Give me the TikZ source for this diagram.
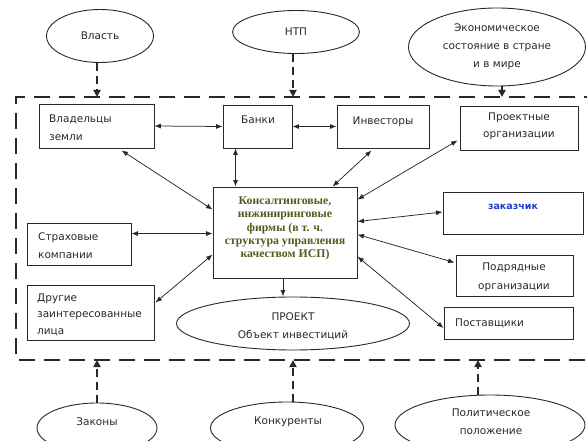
\documentclass[tikz,border=0pt]{standalone}
\usepackage{fontspec}
\setmainfont{DejaVu Sans}
\newfontfamily\firmfont{Liberation Serif}
\usetikzlibrary{arrows.meta,shapes.geometric,calc}
\definecolor{firmtext}{RGB}{78,92,28}
\definecolor{clientblue}{RGB}{35,60,205}
\definecolor{ink}{RGB}{40,40,40}
\begin{document}
\begin{tikzpicture}[x=1pt,y=-1pt,
  box/.style={draw=ink,line width=0.9pt,rectangle,inner sep=0pt},
  oval/.style={draw=ink,line width=0.9pt,ellipse,inner sep=0pt,
    font=\fontsize{10.5}{18}\selectfont,text=ink,align=center},
  lbl/.style={font=\fontsize{10.5}{18}\selectfont,text=ink,inner sep=0pt},
  link/.style={{Latex[length=6.5pt,width=5pt]}-{Latex[length=6.5pt,width=5pt]},line width=0.75pt,draw=ink},
  onelink/.style={-{Latex[length=6.5pt,width=5pt]},line width=0.75pt,draw=ink},
  infl/.style={-{Triangle[length=7pt,width=7pt]},line width=2.2pt,draw=ink,dash pattern=on 8pt off 5pt},
  frameline/.style={line width=1.8pt,draw=ink,dash pattern=on 16pt off 9pt}]
\useasboundingbox (0,0) rectangle (587,441);
\clip (0,0) rectangle (587,441);

% dashed boundary of the project environment (open to the right)
\coordinate (fne) at (600,97);
\coordinate (fnw) at (16,97);
\coordinate (fsw) at (16,360);
\coordinate (fse) at (600,360);
\draw[frameline] (fne) -- (fnw) -- (fsw) -- (fse);

% outer factors
\node[oval,minimum width=107pt,minimum height=53pt] (vlast) at (100,36) {Власть};
\node[oval,minimum width=127pt,minimum height=43pt] (ntp) at (296,32) {НТП};
\node[oval,minimum width=177pt,minimum height=78pt] (econ) at (497,47) {Экономическое\\состояние в стране\\и в мире};
\node[oval,minimum width=120pt,minimum height=50pt] (laws) at (97,428) {};
\node[lbl] (lawst) at (97,422) {Законы};
\node[oval,minimum width=153pt,minimum height=52pt] (comp) at (287,428) {};
\node[lbl] (compt) at (288,422) {Конкуренты};
\node[oval,minimum width=190pt,minimum height=60pt] (polit) at (490,425) {};
\node[lbl,align=center] (politt) at (491,422) {Политическое\\положение};

% participants
\node[box,minimum width=115pt,minimum height=44pt] (vlad) at (96.5,126) {};
\node[lbl,anchor=west,align=left] (vladt) at (49,128) {Владельцы\\земли};
\node[box,minimum width=69pt,minimum height=43pt] (banki) at (257.5,126.5) {};
\node[lbl] (bankit) at (258,120) {Банки};
\node[box,minimum width=92pt,minimum height=43pt] (invest) at (383,126.5) {};
\node[lbl] (investt) at (383,122) {Инвесторы};
\node[box,minimum width=118pt,minimum height=44pt] (proj) at (519,128) {};
\node[lbl,align=center,font=\fontsize{10.5}{17}\selectfont] (projt) at (519,126.5) {Проектные\\организации};
\node[box,minimum width=144pt,minimum height=91pt] (firm) at (285,232.5) {};
\node[inner sep=0pt,align=center,text=firmtext,font=\firmfont\bfseries\fontsize{11.8}{13.3}\selectfont] (firmt) at (285,228.5)
  {Консалтинговые,\\инжиниринговые\\фирмы (в т. ч.\\структура управления\\качеством ИСП)};
\node[box,minimum width=140pt,minimum height=42pt] (zakaz) at (513,213) {};
\node[lbl,text=clientblue,font=\bfseries\fontsize{9.5}{11}\selectfont] (zakazt) at (513,207) {заказчик};
\node[box,minimum width=117pt,minimum height=41pt] (podr) at (514.5,275.5) {};
\node[lbl,align=center,font=\fontsize{10.5}{19}\selectfont] (podrt) at (514,277.5) {Подрядные\\организации};
\node[box,minimum width=129pt,minimum height=32pt] (post) at (508.5,323) {};
\node[lbl,anchor=west] (postt) at (455,323) {Поставщики};
\node[box,minimum width=104pt,minimum height=42pt] (strah) at (79,244) {};
\node[lbl,anchor=west,align=left] (straht) at (38,246) {Страховые\\компании};
\node[box,minimum width=127pt,minimum height=55pt] (drug) at (90.5,312.5) {};
\node[lbl,anchor=west,align=left,font=\fontsize{10.5}{16.5}\selectfont] (drugt) at (37,314.5) {Другие\\заинтересованные\\лица};
\node[oval,minimum width=233pt,minimum height=53pt] (proekt) at (293,323.5) {};
\node[lbl,align=center,font=\fontsize{10.5}{18}\selectfont] (proektt) at (293,326) {ПРОЕКТ\\Объект инвестиций};

% influences on the environment
\draw[infl] ($(vlast.south)+(-3,0)$) -- ($(vlast.south |- fnw)+(-3,0)$);
\draw[infl] ($(ntp.south)+(-3,0)$) -- ($(ntp.south |- fnw)+(-3,0)$);
\draw[infl] ($(econ.south)+(5,0)$) -- ($(econ.south |- fnw)+(5,0)$);
\draw[infl] (laws.north) -- (laws.north |- fsw);
\draw[infl] ($(comp.north)+(6,0)$) -- ($(comp.north |- fsw)+(6,0)$);
\draw[infl] ($(polit.north)+(-12,0)$) -- ($(polit.north |- fsw)+(-12,0)$);

% links between participants
\draw[link] (vlad.east) -- (banki.west);
\draw[link] (banki.east) -- (invest.west);
\draw[link] ($(banki.south west)+(13,0)$) -- ($(firm.north west)+(23,0)$);
\draw[link] ($(vlad.south west)+(83,2)$) -- ($(firm.north west)+(0,23)$);
\draw[link] ($(invest.south west)+(35,2)$) -- ($(firm.north west)+(120,0)$);
\draw[link] ($(proj.south west)+(-2,-10)$) -- ($(firm.north east)+(0,13)$);
\draw[link] ($(firm.north east)+(0,35)$) -- ($(zakaz.west)+(0,-1)$);
\draw[link] ($(firm.north east)+(0,48)$) -- ($(podr.north west)+(-1,8)$);
\draw[link] ($(firm.north east)+(0,70)$) -- ($(post.west)+(0,5)$);
\draw[link] ($(strah.north east)+(0,11)$) -- ($(firm.north west)+(0,47)$);
\draw[link] ($(drug.north east)+(1,18)$) -- ($(firm.north west)+(0,68)$);
\draw[onelink] ($(firm.south)+(-2,0)$) -- ($(firm.south |- proekt.north)+(-2,0)$);
\end{tikzpicture}
\end{document}
